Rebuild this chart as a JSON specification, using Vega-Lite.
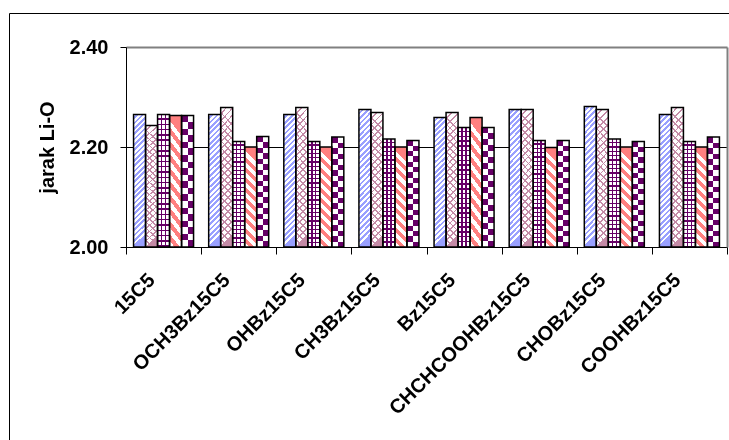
{
  "$schema": "https://vega.github.io/schema/vega-lite/v6.json",
  "width": 720,
  "height": 427,
  "autosize": {"type": "none"},
  "padding": {"left": 9, "top": 13, "right": 0, "bottom": 0},
  "background": "white",
  "config": {
    "view": {"stroke": "black", "strokeWidth": 1, "strokeDash": [720, 1147, 427, 0]},
    "axis": {"labelFont": "Liberation Sans", "titleFont": "Liberation Sans"}
  },
  "data": {
    "values": [
      {"senyawa": "15C5", "seri": "s1", "jarak": 2.265},
      {"senyawa": "15C5", "seri": "s2", "jarak": 2.243},
      {"senyawa": "15C5", "seri": "s3", "jarak": 2.265},
      {"senyawa": "15C5", "seri": "s4", "jarak": 2.263},
      {"senyawa": "15C5", "seri": "s5", "jarak": 2.263},
      {"senyawa": "OCH3Bz15C5", "seri": "s1", "jarak": 2.265},
      {"senyawa": "OCH3Bz15C5", "seri": "s2", "jarak": 2.279},
      {"senyawa": "OCH3Bz15C5", "seri": "s3", "jarak": 2.211},
      {"senyawa": "OCH3Bz15C5", "seri": "s4", "jarak": 2.200},
      {"senyawa": "OCH3Bz15C5", "seri": "s5", "jarak": 2.221},
      {"senyawa": "OHBz15C5", "seri": "s1", "jarak": 2.265},
      {"senyawa": "OHBz15C5", "seri": "s2", "jarak": 2.279},
      {"senyawa": "OHBz15C5", "seri": "s3", "jarak": 2.211},
      {"senyawa": "OHBz15C5", "seri": "s4", "jarak": 2.200},
      {"senyawa": "OHBz15C5", "seri": "s5", "jarak": 2.220},
      {"senyawa": "CH3Bz15C5", "seri": "s1", "jarak": 2.275},
      {"senyawa": "CH3Bz15C5", "seri": "s2", "jarak": 2.269},
      {"senyawa": "CH3Bz15C5", "seri": "s3", "jarak": 2.216},
      {"senyawa": "CH3Bz15C5", "seri": "s4", "jarak": 2.200},
      {"senyawa": "CH3Bz15C5", "seri": "s5", "jarak": 2.213},
      {"senyawa": "Bz15C5", "seri": "s1", "jarak": 2.259},
      {"senyawa": "Bz15C5", "seri": "s2", "jarak": 2.269},
      {"senyawa": "Bz15C5", "seri": "s3", "jarak": 2.239},
      {"senyawa": "Bz15C5", "seri": "s4", "jarak": 2.259},
      {"senyawa": "Bz15C5", "seri": "s5", "jarak": 2.239},
      {"senyawa": "CHCHCOOHBz15C5", "seri": "s1", "jarak": 2.275},
      {"senyawa": "CHCHCOOHBz15C5", "seri": "s2", "jarak": 2.275},
      {"senyawa": "CHCHCOOHBz15C5", "seri": "s3", "jarak": 2.213},
      {"senyawa": "CHCHCOOHBz15C5", "seri": "s4", "jarak": 2.199},
      {"senyawa": "CHCHCOOHBz15C5", "seri": "s5", "jarak": 2.213},
      {"senyawa": "CHOBz15C5", "seri": "s1", "jarak": 2.281},
      {"senyawa": "CHOBz15C5", "seri": "s2", "jarak": 2.275},
      {"senyawa": "CHOBz15C5", "seri": "s3", "jarak": 2.216},
      {"senyawa": "CHOBz15C5", "seri": "s4", "jarak": 2.200},
      {"senyawa": "CHOBz15C5", "seri": "s5", "jarak": 2.211},
      {"senyawa": "COOHBz15C5", "seri": "s1", "jarak": 2.265},
      {"senyawa": "COOHBz15C5", "seri": "s2", "jarak": 2.279},
      {"senyawa": "COOHBz15C5", "seri": "s3", "jarak": 2.211},
      {"senyawa": "COOHBz15C5", "seri": "s4", "jarak": 2.200},
      {"senyawa": "COOHBz15C5", "seri": "s5", "jarak": 2.220}
    ]
  },
  "encoding": {
    "x": {
      "field": "senyawa", "type": "nominal",
      "scale": {
        "domain": ["15C5", "OCH3Bz15C5", "OHBz15C5", "CH3Bz15C5", "Bz15C5", "CHCHCOOHBz15C5", "CHOBz15C5", "COOHBz15C5"],
        "range": [117, 718], "paddingInner": 0, "paddingOuter": 0
      },
      "axis": {
        "title": null, "orient": "bottom", "offset": -193, "tickBand": "extent",
        "tickSize": 7, "tickColor": "black", "domainColor": "black", "grid": false,
        "labelAngle": -45, "labelAlign": "right", "labelBaseline": "alphabetic",
        "labelPadding": 27, "labelOffset": -8, "labelFontSize": 20, "labelFontWeight": "bold",
        "labelColor": "black", "labelLimit": 0, "labelOverlap": false, "labelBound": false
      }
    },
    "xOffset": {
      "field": "seri", "type": "nominal",
      "scale": {"domain": ["s1", "s2", "s3", "s4", "s5"], "paddingInner": 0, "paddingOuter": 0.63}
    },
    "y2": {"datum": 2}
  },
  "layer": [
    {
      "transform": [{"filter": "datum.seri === 's1'"}],
      "mark": {"type": "bar", "fill": {"gradient": "linear", "x1": 0, "y1": 0, "x2": 0.09, "y2": 1, "stops": [
        {"offset":0,"color":"#fff"},{"offset":0.02,"color":"#fff"},{"offset":0.02,"color":"#99a0ff"},{"offset":0.04,"color":"#99a0ff"},
        {"offset":0.04,"color":"#fff"},{"offset":0.06,"color":"#fff"},{"offset":0.06,"color":"#99a0ff"},{"offset":0.08,"color":"#99a0ff"},
        {"offset":0.08,"color":"#fff"},{"offset":0.1,"color":"#fff"},{"offset":0.1,"color":"#99a0ff"},{"offset":0.12,"color":"#99a0ff"},
        {"offset":0.12,"color":"#fff"},{"offset":0.14,"color":"#fff"},{"offset":0.14,"color":"#99a0ff"},{"offset":0.16,"color":"#99a0ff"},
        {"offset":0.16,"color":"#fff"},{"offset":0.18,"color":"#fff"},{"offset":0.18,"color":"#99a0ff"},{"offset":0.2,"color":"#99a0ff"},
        {"offset":0.2,"color":"#fff"},{"offset":0.22,"color":"#fff"},{"offset":0.22,"color":"#99a0ff"},{"offset":0.24,"color":"#99a0ff"},
        {"offset":0.24,"color":"#fff"},{"offset":0.26,"color":"#fff"},{"offset":0.26,"color":"#99a0ff"},{"offset":0.28,"color":"#99a0ff"},
        {"offset":0.28,"color":"#fff"},{"offset":0.3,"color":"#fff"},{"offset":0.3,"color":"#99a0ff"},{"offset":0.32,"color":"#99a0ff"},
        {"offset":0.32,"color":"#fff"},{"offset":0.34,"color":"#fff"},{"offset":0.34,"color":"#99a0ff"},{"offset":0.36,"color":"#99a0ff"},
        {"offset":0.36,"color":"#fff"},{"offset":0.38,"color":"#fff"},{"offset":0.38,"color":"#99a0ff"},{"offset":0.4,"color":"#99a0ff"},
        {"offset":0.4,"color":"#fff"},{"offset":0.42,"color":"#fff"},{"offset":0.42,"color":"#99a0ff"},{"offset":0.44,"color":"#99a0ff"},
        {"offset":0.44,"color":"#fff"},{"offset":0.46,"color":"#fff"},{"offset":0.46,"color":"#99a0ff"},{"offset":0.48,"color":"#99a0ff"},
        {"offset":0.48,"color":"#fff"},{"offset":0.5,"color":"#fff"},{"offset":0.5,"color":"#99a0ff"},{"offset":0.52,"color":"#99a0ff"},
        {"offset":0.52,"color":"#fff"},{"offset":0.54,"color":"#fff"},{"offset":0.54,"color":"#99a0ff"},{"offset":0.56,"color":"#99a0ff"},
        {"offset":0.56,"color":"#fff"},{"offset":0.58,"color":"#fff"},{"offset":0.58,"color":"#99a0ff"},{"offset":0.6,"color":"#99a0ff"},
        {"offset":0.6,"color":"#fff"},{"offset":0.62,"color":"#fff"},{"offset":0.62,"color":"#99a0ff"},{"offset":0.64,"color":"#99a0ff"},
        {"offset":0.64,"color":"#fff"},{"offset":0.66,"color":"#fff"},{"offset":0.66,"color":"#99a0ff"},{"offset":0.68,"color":"#99a0ff"},
        {"offset":0.68,"color":"#fff"},{"offset":0.7,"color":"#fff"},{"offset":0.7,"color":"#99a0ff"},{"offset":0.72,"color":"#99a0ff"},
        {"offset":0.72,"color":"#fff"},{"offset":0.74,"color":"#fff"},{"offset":0.74,"color":"#99a0ff"},{"offset":0.76,"color":"#99a0ff"},
        {"offset":0.76,"color":"#fff"},{"offset":0.78,"color":"#fff"},{"offset":0.78,"color":"#99a0ff"},{"offset":0.8,"color":"#99a0ff"},
        {"offset":0.8,"color":"#fff"},{"offset":0.82,"color":"#fff"},{"offset":0.82,"color":"#99a0ff"},{"offset":0.84,"color":"#99a0ff"},
        {"offset":0.84,"color":"#fff"},{"offset":0.86,"color":"#fff"},{"offset":0.86,"color":"#99a0ff"},{"offset":0.88,"color":"#99a0ff"},
        {"offset":0.88,"color":"#fff"},{"offset":0.9,"color":"#fff"},{"offset":0.9,"color":"#99a0ff"},{"offset":0.92,"color":"#99a0ff"},
        {"offset":0.92,"color":"#fff"},{"offset":0.94,"color":"#fff"},{"offset":0.94,"color":"#99a0ff"},{"offset":0.96,"color":"#99a0ff"},
        {"offset":0.96,"color":"#fff"},{"offset":0.98,"color":"#fff"},{"offset":0.98,"color":"#99a0ff"},{"offset":1,"color":"#99a0ff"}
      ]}},
      "encoding": {
        "y": {
          "field": "jarak", "type": "quantitative",
          "scale": {"domain": [2, 2.4], "range": [234, 34], "nice": false, "zero": false},
          "axis": {
            "orient": "left", "offset": -117, "values": [2, 2.2, 2.4], "format": ".2f",
            "title": "jarak Li-O", "titleFontSize": 20, "titleFontWeight": "bold", "titleColor": "black", "titlePadding": 12,
            "labelFontSize": 20, "labelFontWeight": "bold", "labelColor": "black", "labelPadding": 12,
            "tickSize": 6, "tickColor": "black", "domainColor": "black",
            "grid": true, "gridOpacity": 1,
            "gridColor": {"condition": {"test": "datum.value === 2.4", "value": "#808080"}, "value": "black"},
            "gridWidth": {"condition": {"test": "datum.value === 2.4", "value": 2}, "value": 1}
          }
        }
      }
    },
    {
      "transform": [{"filter": "datum.seri === 's2'"}],
      "mark": {"type": "bar", "fill": {"gradient": "linear", "x1": 0, "y1": 0, "x2": 0.09, "y2": 1, "stops": [
        {"offset":0,"color":"#fff"},{"offset":0.037,"color":"#fff"},{"offset":0.037,"color":"#c48aa6"},{"offset":0.05,"color":"#c48aa6"},
        {"offset":0.05,"color":"#fff"},{"offset":0.087,"color":"#fff"},{"offset":0.087,"color":"#c48aa6"},{"offset":0.1,"color":"#c48aa6"},
        {"offset":0.1,"color":"#fff"},{"offset":0.137,"color":"#fff"},{"offset":0.137,"color":"#c48aa6"},{"offset":0.15,"color":"#c48aa6"},
        {"offset":0.15,"color":"#fff"},{"offset":0.187,"color":"#fff"},{"offset":0.187,"color":"#c48aa6"},{"offset":0.2,"color":"#c48aa6"},
        {"offset":0.2,"color":"#fff"},{"offset":0.237,"color":"#fff"},{"offset":0.237,"color":"#c48aa6"},{"offset":0.25,"color":"#c48aa6"},
        {"offset":0.25,"color":"#fff"},{"offset":0.287,"color":"#fff"},{"offset":0.287,"color":"#c48aa6"},{"offset":0.3,"color":"#c48aa6"},
        {"offset":0.3,"color":"#fff"},{"offset":0.337,"color":"#fff"},{"offset":0.337,"color":"#c48aa6"},{"offset":0.35,"color":"#c48aa6"},
        {"offset":0.35,"color":"#fff"},{"offset":0.387,"color":"#fff"},{"offset":0.387,"color":"#c48aa6"},{"offset":0.4,"color":"#c48aa6"},
        {"offset":0.4,"color":"#fff"},{"offset":0.437,"color":"#fff"},{"offset":0.437,"color":"#c48aa6"},{"offset":0.45,"color":"#c48aa6"},
        {"offset":0.45,"color":"#fff"},{"offset":0.487,"color":"#fff"},{"offset":0.487,"color":"#c48aa6"},{"offset":0.5,"color":"#c48aa6"},
        {"offset":0.5,"color":"#fff"},{"offset":0.537,"color":"#fff"},{"offset":0.537,"color":"#c48aa6"},{"offset":0.55,"color":"#c48aa6"},
        {"offset":0.55,"color":"#fff"},{"offset":0.587,"color":"#fff"},{"offset":0.587,"color":"#c48aa6"},{"offset":0.6,"color":"#c48aa6"},
        {"offset":0.6,"color":"#fff"},{"offset":0.637,"color":"#fff"},{"offset":0.637,"color":"#c48aa6"},{"offset":0.65,"color":"#c48aa6"},
        {"offset":0.65,"color":"#fff"},{"offset":0.687,"color":"#fff"},{"offset":0.687,"color":"#c48aa6"},{"offset":0.7,"color":"#c48aa6"},
        {"offset":0.7,"color":"#fff"},{"offset":0.737,"color":"#fff"},{"offset":0.737,"color":"#c48aa6"},{"offset":0.75,"color":"#c48aa6"},
        {"offset":0.75,"color":"#fff"},{"offset":0.787,"color":"#fff"},{"offset":0.787,"color":"#c48aa6"},{"offset":0.8,"color":"#c48aa6"},
        {"offset":0.8,"color":"#fff"},{"offset":0.837,"color":"#fff"},{"offset":0.837,"color":"#c48aa6"},{"offset":0.85,"color":"#c48aa6"},
        {"offset":0.85,"color":"#fff"},{"offset":0.887,"color":"#fff"},{"offset":0.887,"color":"#c48aa6"},{"offset":0.9,"color":"#c48aa6"},
        {"offset":0.9,"color":"#fff"},{"offset":0.937,"color":"#fff"},{"offset":0.937,"color":"#c48aa6"},{"offset":0.95,"color":"#c48aa6"},
        {"offset":0.95,"color":"#fff"},{"offset":0.987,"color":"#fff"},{"offset":0.987,"color":"#c48aa6"},{"offset":1,"color":"#c48aa6"}
      ]}},
      "encoding": {
        "y": {
          "field": "jarak", "type": "quantitative",
          "scale": {"domain": [2, 2.4], "range": [234, 34], "nice": false, "zero": false},
          "axis": {"orient": "right", "offset": -2, "labels": false, "ticks": false, "grid": false, "title": null, "domainColor": "#808080", "domainWidth": 2}
        }
      }
    },
    {
      "transform": [{"filter": "datum.seri === 's2'"}],
      "mark": {"type": "bar", "fill": {"gradient": "linear", "x1": 0.09, "y1": 0, "x2": 0, "y2": 1, "stops": [
        {"offset":0,"color":"rgba(255,255,255,0)"},{"offset":0.037,"color":"rgba(255,255,255,0)"},{"offset":0.037,"color":"#c48aa6"},{"offset":0.05,"color":"#c48aa6"},
        {"offset":0.05,"color":"rgba(255,255,255,0)"},{"offset":0.087,"color":"rgba(255,255,255,0)"},{"offset":0.087,"color":"#c48aa6"},{"offset":0.1,"color":"#c48aa6"},
        {"offset":0.1,"color":"rgba(255,255,255,0)"},{"offset":0.137,"color":"rgba(255,255,255,0)"},{"offset":0.137,"color":"#c48aa6"},{"offset":0.15,"color":"#c48aa6"},
        {"offset":0.15,"color":"rgba(255,255,255,0)"},{"offset":0.187,"color":"rgba(255,255,255,0)"},{"offset":0.187,"color":"#c48aa6"},{"offset":0.2,"color":"#c48aa6"},
        {"offset":0.2,"color":"rgba(255,255,255,0)"},{"offset":0.237,"color":"rgba(255,255,255,0)"},{"offset":0.237,"color":"#c48aa6"},{"offset":0.25,"color":"#c48aa6"},
        {"offset":0.25,"color":"rgba(255,255,255,0)"},{"offset":0.287,"color":"rgba(255,255,255,0)"},{"offset":0.287,"color":"#c48aa6"},{"offset":0.3,"color":"#c48aa6"},
        {"offset":0.3,"color":"rgba(255,255,255,0)"},{"offset":0.337,"color":"rgba(255,255,255,0)"},{"offset":0.337,"color":"#c48aa6"},{"offset":0.35,"color":"#c48aa6"},
        {"offset":0.35,"color":"rgba(255,255,255,0)"},{"offset":0.387,"color":"rgba(255,255,255,0)"},{"offset":0.387,"color":"#c48aa6"},{"offset":0.4,"color":"#c48aa6"},
        {"offset":0.4,"color":"rgba(255,255,255,0)"},{"offset":0.437,"color":"rgba(255,255,255,0)"},{"offset":0.437,"color":"#c48aa6"},{"offset":0.45,"color":"#c48aa6"},
        {"offset":0.45,"color":"rgba(255,255,255,0)"},{"offset":0.487,"color":"rgba(255,255,255,0)"},{"offset":0.487,"color":"#c48aa6"},{"offset":0.5,"color":"#c48aa6"},
        {"offset":0.5,"color":"rgba(255,255,255,0)"},{"offset":0.537,"color":"rgba(255,255,255,0)"},{"offset":0.537,"color":"#c48aa6"},{"offset":0.55,"color":"#c48aa6"},
        {"offset":0.55,"color":"rgba(255,255,255,0)"},{"offset":0.587,"color":"rgba(255,255,255,0)"},{"offset":0.587,"color":"#c48aa6"},{"offset":0.6,"color":"#c48aa6"},
        {"offset":0.6,"color":"rgba(255,255,255,0)"},{"offset":0.637,"color":"rgba(255,255,255,0)"},{"offset":0.637,"color":"#c48aa6"},{"offset":0.65,"color":"#c48aa6"},
        {"offset":0.65,"color":"rgba(255,255,255,0)"},{"offset":0.687,"color":"rgba(255,255,255,0)"},{"offset":0.687,"color":"#c48aa6"},{"offset":0.7,"color":"#c48aa6"},
        {"offset":0.7,"color":"rgba(255,255,255,0)"},{"offset":0.737,"color":"rgba(255,255,255,0)"},{"offset":0.737,"color":"#c48aa6"},{"offset":0.75,"color":"#c48aa6"},
        {"offset":0.75,"color":"rgba(255,255,255,0)"},{"offset":0.787,"color":"rgba(255,255,255,0)"},{"offset":0.787,"color":"#c48aa6"},{"offset":0.8,"color":"#c48aa6"},
        {"offset":0.8,"color":"rgba(255,255,255,0)"},{"offset":0.837,"color":"rgba(255,255,255,0)"},{"offset":0.837,"color":"#c48aa6"},{"offset":0.85,"color":"#c48aa6"},
        {"offset":0.85,"color":"rgba(255,255,255,0)"},{"offset":0.887,"color":"rgba(255,255,255,0)"},{"offset":0.887,"color":"#c48aa6"},{"offset":0.9,"color":"#c48aa6"},
        {"offset":0.9,"color":"rgba(255,255,255,0)"},{"offset":0.937,"color":"rgba(255,255,255,0)"},{"offset":0.937,"color":"#c48aa6"},{"offset":0.95,"color":"#c48aa6"},
        {"offset":0.95,"color":"rgba(255,255,255,0)"},{"offset":0.987,"color":"rgba(255,255,255,0)"},{"offset":0.987,"color":"#c48aa6"},{"offset":1,"color":"#c48aa6"}
      ]}},
      "encoding": {
        "y": {"field": "jarak", "type": "quantitative", "scale": {"domain": [2, 2.4], "range": [234, 34], "nice": false, "zero": false}, "axis": null}
      }
    },
    {
      "transform": [{"filter": "datum.seri === 's3'"}],
      "mark": {"type": "bar", "fill": {"gradient": "linear", "x1": 0, "y1": 0, "x2": 0, "y2": 1, "stops": [
        {"offset":0,"color":"#fff"},{"offset":0.028,"color":"#fff"},{"offset":0.028,"color":"#660066"},{"offset":0.04,"color":"#660066"},
        {"offset":0.04,"color":"#fff"},{"offset":0.068,"color":"#fff"},{"offset":0.068,"color":"#660066"},{"offset":0.08,"color":"#660066"},
        {"offset":0.08,"color":"#fff"},{"offset":0.108,"color":"#fff"},{"offset":0.108,"color":"#660066"},{"offset":0.12,"color":"#660066"},
        {"offset":0.12,"color":"#fff"},{"offset":0.148,"color":"#fff"},{"offset":0.148,"color":"#660066"},{"offset":0.16,"color":"#660066"},
        {"offset":0.16,"color":"#fff"},{"offset":0.188,"color":"#fff"},{"offset":0.188,"color":"#660066"},{"offset":0.2,"color":"#660066"},
        {"offset":0.2,"color":"#fff"},{"offset":0.228,"color":"#fff"},{"offset":0.228,"color":"#660066"},{"offset":0.24,"color":"#660066"},
        {"offset":0.24,"color":"#fff"},{"offset":0.268,"color":"#fff"},{"offset":0.268,"color":"#660066"},{"offset":0.28,"color":"#660066"},
        {"offset":0.28,"color":"#fff"},{"offset":0.308,"color":"#fff"},{"offset":0.308,"color":"#660066"},{"offset":0.32,"color":"#660066"},
        {"offset":0.32,"color":"#fff"},{"offset":0.348,"color":"#fff"},{"offset":0.348,"color":"#660066"},{"offset":0.36,"color":"#660066"},
        {"offset":0.36,"color":"#fff"},{"offset":0.388,"color":"#fff"},{"offset":0.388,"color":"#660066"},{"offset":0.4,"color":"#660066"},
        {"offset":0.4,"color":"#fff"},{"offset":0.428,"color":"#fff"},{"offset":0.428,"color":"#660066"},{"offset":0.44,"color":"#660066"},
        {"offset":0.44,"color":"#fff"},{"offset":0.468,"color":"#fff"},{"offset":0.468,"color":"#660066"},{"offset":0.48,"color":"#660066"},
        {"offset":0.48,"color":"#fff"},{"offset":0.508,"color":"#fff"},{"offset":0.508,"color":"#660066"},{"offset":0.52,"color":"#660066"},
        {"offset":0.52,"color":"#fff"},{"offset":0.548,"color":"#fff"},{"offset":0.548,"color":"#660066"},{"offset":0.56,"color":"#660066"},
        {"offset":0.56,"color":"#fff"},{"offset":0.588,"color":"#fff"},{"offset":0.588,"color":"#660066"},{"offset":0.6,"color":"#660066"},
        {"offset":0.6,"color":"#fff"},{"offset":0.628,"color":"#fff"},{"offset":0.628,"color":"#660066"},{"offset":0.64,"color":"#660066"},
        {"offset":0.64,"color":"#fff"},{"offset":0.668,"color":"#fff"},{"offset":0.668,"color":"#660066"},{"offset":0.68,"color":"#660066"},
        {"offset":0.68,"color":"#fff"},{"offset":0.708,"color":"#fff"},{"offset":0.708,"color":"#660066"},{"offset":0.72,"color":"#660066"},
        {"offset":0.72,"color":"#fff"},{"offset":0.748,"color":"#fff"},{"offset":0.748,"color":"#660066"},{"offset":0.76,"color":"#660066"},
        {"offset":0.76,"color":"#fff"},{"offset":0.788,"color":"#fff"},{"offset":0.788,"color":"#660066"},{"offset":0.8,"color":"#660066"},
        {"offset":0.8,"color":"#fff"},{"offset":0.828,"color":"#fff"},{"offset":0.828,"color":"#660066"},{"offset":0.84,"color":"#660066"},
        {"offset":0.84,"color":"#fff"},{"offset":0.868,"color":"#fff"},{"offset":0.868,"color":"#660066"},{"offset":0.88,"color":"#660066"},
        {"offset":0.88,"color":"#fff"},{"offset":0.908,"color":"#fff"},{"offset":0.908,"color":"#660066"},{"offset":0.92,"color":"#660066"},
        {"offset":0.92,"color":"#fff"},{"offset":0.948,"color":"#fff"},{"offset":0.948,"color":"#660066"},{"offset":0.96,"color":"#660066"},
        {"offset":0.96,"color":"#fff"},{"offset":0.988,"color":"#fff"},{"offset":0.988,"color":"#660066"},{"offset":1,"color":"#660066"}
      ]}},
      "encoding": {
        "y": {"field": "jarak", "type": "quantitative", "scale": {"domain": [2, 2.4], "range": [234, 34], "nice": false, "zero": false}, "axis": null}
      }
    },
    {
      "transform": [{"filter": "datum.seri === 's3'"}],
      "mark": {"type": "bar", "fill": {"gradient": "linear", "x1": 0, "y1": 0, "x2": 1, "y2": 0, "stops": [
        {"offset":0,"color":"rgba(255,255,255,0)"},{"offset":0.28,"color":"rgba(255,255,255,0)"},
        {"offset":0.28,"color":"#660066"},{"offset":0.4,"color":"#660066"},
        {"offset":0.4,"color":"rgba(255,255,255,0)"},{"offset":0.6,"color":"rgba(255,255,255,0)"},
        {"offset":0.6,"color":"#660066"},{"offset":0.72,"color":"#660066"},
        {"offset":0.72,"color":"rgba(255,255,255,0)"},{"offset":1,"color":"rgba(255,255,255,0)"}
      ]}},
      "encoding": {
        "y": {"field": "jarak", "type": "quantitative", "scale": {"domain": [2, 2.4], "range": [234, 34], "nice": false, "zero": false}, "axis": null}
      }
    },
    {
      "transform": [{"filter": "datum.seri === 's4'"}],
      "mark": {"type": "bar", "fill": {"gradient": "linear", "x1": 0.12, "y1": 0, "x2": 0, "y2": 1, "stops": [
        {"offset":0,"color":"#ff8080"},{"offset":0.05,"color":"#ff8080"},{"offset":0.05,"color":"#fff"},{"offset":0.1,"color":"#fff"},
        {"offset":0.1,"color":"#ff8080"},{"offset":0.15,"color":"#ff8080"},{"offset":0.15,"color":"#fff"},{"offset":0.2,"color":"#fff"},
        {"offset":0.2,"color":"#ff8080"},{"offset":0.25,"color":"#ff8080"},{"offset":0.25,"color":"#fff"},{"offset":0.3,"color":"#fff"},
        {"offset":0.3,"color":"#ff8080"},{"offset":0.35,"color":"#ff8080"},{"offset":0.35,"color":"#fff"},{"offset":0.4,"color":"#fff"},
        {"offset":0.4,"color":"#ff8080"},{"offset":0.45,"color":"#ff8080"},{"offset":0.45,"color":"#fff"},{"offset":0.5,"color":"#fff"},
        {"offset":0.5,"color":"#ff8080"},{"offset":0.55,"color":"#ff8080"},{"offset":0.55,"color":"#fff"},{"offset":0.6,"color":"#fff"},
        {"offset":0.6,"color":"#ff8080"},{"offset":0.65,"color":"#ff8080"},{"offset":0.65,"color":"#fff"},{"offset":0.7,"color":"#fff"},
        {"offset":0.7,"color":"#ff8080"},{"offset":0.75,"color":"#ff8080"},{"offset":0.75,"color":"#fff"},{"offset":0.8,"color":"#fff"},
        {"offset":0.8,"color":"#ff8080"},{"offset":0.85,"color":"#ff8080"},{"offset":0.85,"color":"#fff"},{"offset":0.9,"color":"#fff"},
        {"offset":0.9,"color":"#ff8080"},{"offset":0.95,"color":"#ff8080"},{"offset":0.95,"color":"#fff"},{"offset":1,"color":"#fff"}
      ]}},
      "encoding": {
        "y": {"field": "jarak", "type": "quantitative", "scale": {"domain": [2, 2.4], "range": [234, 34], "nice": false, "zero": false}, "axis": null}
      }
    },
    {
      "transform": [{"filter": "datum.seri === 's5'"}],
      "mark": {"type": "bar", "fill": {"gradient": "linear", "x1": 0, "y1": 0, "x2": 0, "y2": 1, "stops": [
        {"offset":0,"color":"#fff"},{"offset":0.05,"color":"#fff"},{"offset":0.05,"color":"#000"},{"offset":0.1,"color":"#000"},
        {"offset":0.1,"color":"#fff"},{"offset":0.15,"color":"#fff"},{"offset":0.15,"color":"#000"},{"offset":0.2,"color":"#000"},
        {"offset":0.2,"color":"#fff"},{"offset":0.25,"color":"#fff"},{"offset":0.25,"color":"#000"},{"offset":0.3,"color":"#000"},
        {"offset":0.3,"color":"#fff"},{"offset":0.35,"color":"#fff"},{"offset":0.35,"color":"#000"},{"offset":0.4,"color":"#000"},
        {"offset":0.4,"color":"#fff"},{"offset":0.45,"color":"#fff"},{"offset":0.45,"color":"#000"},{"offset":0.5,"color":"#000"},
        {"offset":0.5,"color":"#fff"},{"offset":0.55,"color":"#fff"},{"offset":0.55,"color":"#000"},{"offset":0.6,"color":"#000"},
        {"offset":0.6,"color":"#fff"},{"offset":0.65,"color":"#fff"},{"offset":0.65,"color":"#000"},{"offset":0.7,"color":"#000"},
        {"offset":0.7,"color":"#fff"},{"offset":0.75,"color":"#fff"},{"offset":0.75,"color":"#000"},{"offset":0.8,"color":"#000"},
        {"offset":0.8,"color":"#fff"},{"offset":0.85,"color":"#fff"},{"offset":0.85,"color":"#000"},{"offset":0.9,"color":"#000"},
        {"offset":0.9,"color":"#fff"},{"offset":0.95,"color":"#fff"},{"offset":0.95,"color":"#000"},{"offset":1,"color":"#000"}
      ]}},
      "encoding": {
        "y": {"field": "jarak", "type": "quantitative", "scale": {"domain": [2, 2.4], "range": [234, 34], "nice": false, "zero": false}, "axis": null}
      }
    },
    {
      "transform": [{"filter": "datum.seri === 's5'"}],
      "mark": {"type": "bar", "blend": "difference", "fill": {"gradient": "linear", "x1": 0, "y1": 0, "x2": 1, "y2": 0, "stops": [
        {"offset":0,"color":"#fff"},{"offset":0.5,"color":"#fff"},{"offset":0.5,"color":"#000"},{"offset":1,"color":"#000"}
      ]}},
      "encoding": {
        "y": {"field": "jarak", "type": "quantitative", "scale": {"domain": [2, 2.4], "range": [234, 34], "nice": false, "zero": false}, "axis": null}
      }
    },
    {
      "transform": [{"filter": "datum.seri === 's5'"}],
      "mark": {"type": "bar", "blend": "lighten", "fill": "#660066"},
      "encoding": {
        "y": {"field": "jarak", "type": "quantitative", "scale": {"domain": [2, 2.4], "range": [234, 34], "nice": false, "zero": false}, "axis": null}
      }
    },
    {
      "mark": {"type": "bar", "fill": "white", "fillOpacity": 0, "stroke": "black", "strokeWidth": 1.5},
      "encoding": {
        "y": {"field": "jarak", "type": "quantitative", "scale": {"domain": [2, 2.4], "range": [234, 34], "nice": false, "zero": false}, "axis": null}
      }
    }
  ]
}
